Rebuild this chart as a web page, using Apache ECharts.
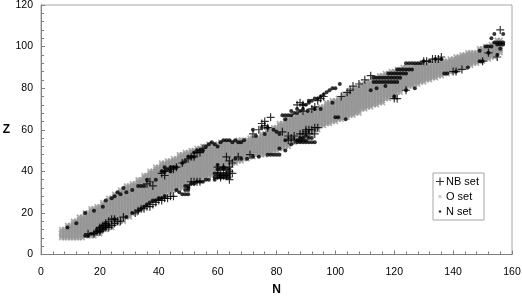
<!DOCTYPE html>
<html><head><meta charset="utf-8">
<script src="https://cdn.jsdelivr.net/npm/echarts@6/dist/echarts.min.js"></script>
<style>html,body{margin:0;padding:0;background:#fff}#c{width:522px;height:296px}</style></head>
<body><div id="c"></div>
<script>
// O set: extent of Z at each pair of neighbouring N
const oN =  [7,9,11,13,15,17,19,21,23,25,27,29,31,33,35,37,39,41,43,45,47,49,51,53,55,57,59,61,63,65,67,69,71,73,75,77,79,81,83,85,87,89,91,93,95,97,99,101,103,105,107,109,111,113,115,117,119,121,123,125,127,129,131,133,135,137,139,141,143,145,147,149,151,153,155];
const oLo = [8,8,8,8,9,9,10,12,13,15,16,18,20,22,24,26,27,28,30,31,32,33,35,36,37,38,40,42,43,44,45,46,47,48,48,49,50,51,52,54,55,57,58,60,62,63,64,65,66,67,68,70,71,72,73,75,76,78,80,81,82,83,84,85,86,87,88,89,90,91,92,93,94,95,97];
const oHi = [12,14,16,18,20,22,23,25,27,29,31,33,34,36,38,40,42,44,45,46,48,49,50,51,52,53,53,54,54,54,55,55,56,56,58,60,61,63,65,66,67,68,69,70,71,73,74,75,77,79,80,82,83,85,86,87,88,89,90,90,91,91,91,92,93,93,94,95,96,97,97,99,100,101,103];
// N set: upper edge, lower edge, upper-right patch, far end
const nUpper = [[9,13],[12,15],[15,20],[18,21],[21,23],[22,26],[24,27],[25,28],[26,30],[27,29],[28,32],[29,30],[31,31],[33,33],[34,33],[35,33],[36,36],[39,36],[41,40],[42,40],[43,41],[44,42],[45,42],[46,42],[49,45],[50,47],[51,47],[52,47],[53,50],[54,50],[55,50],[58,54],[60,52],[61,54],[62,55],[63,55],[64,55],[65,54],[67,54],[68,54],[72,60],[73,57],[75,61],[76,58],[77,61],[79,60],[80,59],[81,58],[82,67],[83,65],[84,67],[85,67],[86,68],[87,68],[88,69],[89,70],[90,72],[91,73],[92,74],[93,75],[94,75],[95,76],[96,77],[97,78],[98,79],[99,80],[100,80],[101.5,82],[90.6,69],[93,70],[95,70],[99,73],[42,42],[44,40],[48,44],[52,49],[56,52],[57,53],[59,53],[66,55],[69,55],[83,67],[85,69],[87,70],[89,72],[91,74]];
const nLower = [[15,9],[16,9],[17,10],[18,10],[19,11],[19,12],[20,11],[20,13],[21,12],[21,14],[22,13],[22,15],[23,14],[25,17],[29,18],[31,20],[33,21],[35,23],[37,25],[38,26],[40,27],[42,28],[46,31],[47,30],[48,29],[49,33],[49,29],[49,31],[50,29],[50,32],[50,31],[50,33],[51,34],[52,34],[53,35],[54,35],[55,35],[56,36],[57,36],[59,36],[59,39],[59,37],[60,37],[60,39],[60,41],[60,43],[61,38],[61,37],[61,39],[61,41],[62,42],[62,37],[62,39],[62,41],[63,38],[63,37],[63,39],[63,41],[64,37],[64,39],[64,41],[66,46],[68,46],[70,46],[72,47],[74,47],[77,48],[78,48],[79,48],[80,48],[81,48],[81,51],[83,55],[83,50],[85,53],[87,55],[88,56],[89,56],[90,57],[91,56],[92,56],[87,54],[88,54],[89,54],[90,54],[91,54],[92,54],[93,54],[88,55],[89,55],[90,55],[100,66],[103.5,65],[101,66],[36,24],[34,22],[39,26],[41,27]];
const nPatch = [[113,83],[114,83],[115,83],[116,83],[117,83],[118,83],[119,83],[120,83],[121,83],[113,85],[114,85],[115,85],[116,85],[117,85],[118,85],[119,85],[120,85],[121,85],[122,85],[118,87],[119,87],[120,87],[121,87],[122,87],[123,87],[124,87],[121,89],[122,89],[123,89],[124,89],[125,89],[126,89],[124,92],[125,92],[126,92],[127,92],[128,92],[129,92],[112,79],[114,80],[117,81],[120,76],[124,79],[127,80],[130,93],[132,93],[134,94],[136,94],[137,87],[138,87],[141,88],[145,90]];
const nEnd = [[149,93],[150,93],[149,98],[151,100],[152,100],[153,100],[152,97],[153,104],[154,106],[157,106],[155,96],[155,101],[156,101],[157,101],[154,102],[155,102],[156,102],[157,102],[156,99]];
// NB set: lower edge, upper edge, clusters, far end
const nbLower = [[16,10],[18,10],[19,11],[20,11],[20,13],[21,12],[21,14],[22,13],[22,15],[23,13],[23,16],[24,14],[24,17],[25,15],[25,17],[26,16],[27,16],[28,18],[32,20],[33,21],[34,22],[35,22],[36,23],[37,23],[38,24],[39,25],[40,26],[41,26],[42,27],[43,27],[44,28],[45,28],[51,35],[52,35],[53,35],[54,35]];
const nbUpper = [[36,34],[37,35],[38,33],[41,39],[42,38],[42,40],[44,41],[45,41],[46,42],[48,44],[50,46],[51,47],[52,47],[53,49],[54,49],[55,51],[72,58],[74,60],[75,63],[76,62],[77,61],[76,64],[78,66]];
const nbCluster = [[60,38],[61,38],[62,38],[63,38],[60,42],[62,42],[64,42],[61,37],[63,38],[65,44],[64,45],[63,47],[64,40],[65,39],[64,36],[67,47],[71,48],[82,59],[84,57],[84,55],[85,56],[86,57],[86,55],[88,58],[89,58],[90,59],[91,58],[93,58],[90,60],[91,60],[92,60],[93,61],[94,61],[89,69],[92,70],[87,72],[88,73],[89,72],[93,71],[94,74],[95,75],[96,76],[102,76],[104,78],[105,79],[106,81],[108,82],[110,84],[112,86],[120,75],[121,75],[124,79]];
const nbEnd = [[130,93],[131,93],[133,94],[134,94],[135,94],[136,95],[140,88],[141,88],[143,89],[150,93],[152,97],[155,95],[156,108]];
const tickStep = 20;
const plusIcon = 'path://M3.4 0h1.2v8H3.4zM0 3.4h8v1.2H0z';
const crossIcon = 'path://M0 1.5L1.5 0L4 2.5L6.5 0L8 1.5L5.5 4L8 6.5L6.5 8L4 5.5L1.5 8L0 6.5L2.5 4Z';
const legendCross = 'path://M2.5 3L3 2.5L4.5 4L6 2.5L6.5 3L5 4.5L6.5 6L6 6.5L4.5 5L3 6.5L2.5 6L4 4.5ZM0 0h.01v.01H0zM9 9h-.01v-.01H9z';
const legendDot = 'path://M3 4.5a1.5 1.5 0 1 0 3 0a1.5 1.5 0 1 0 -3 0ZM0 0h.01v.01H0zM9 9h-.01v-.01H9z';
const oPts = [];
oN.forEach((n,i)=>{ for(let z=oLo[i]; z<=oHi[i]; z++){ oPts.push([n,z]); oPts.push([n+1,z]); } });
const axisBase = {
  nameLocation:'middle',nameMoveOverlap:false,nameRotate:0,
  nameTextStyle:{fontFamily:'Liberation Sans',fontWeight:'bold',fontSize:12,color:'#000'},
  axisLine:{lineStyle:{color:'#808080',width:1}},
  axisTick:{inside:true,length:4,lineStyle:{color:'#808080'}},
  minorTick:{show:true,splitNumber:5,length:3,lineStyle:{color:'#808080'}},
  axisLabel:{fontFamily:'Liberation Sans',fontSize:10.5,color:'#000'},
  splitLine:{show:false}, minorSplitLine:{show:false}
};
const chart = echarts.init(document.getElementById('c'),null,{renderer:'canvas'});
chart.setOption({
  animation:false,backgroundColor:'#fff',
  grid:{left:41,right:10,top:5,bottom:41.5,show:true,borderColor:'#a6a6a6',borderWidth:1,outerBoundsMode:'none',containLabel:false},
  xAxis:Object.assign({},axisBase,{type:'value',min:0,max:160,interval:tickStep,name:'N',nameGap:29,
    axisLabel:Object.assign({},axisBase.axisLabel,{margin:12})}),
  yAxis:Object.assign({},axisBase,{type:'value',min:0,max:120,interval:tickStep,name:'Z',nameGap:31,
    axisLabel:Object.assign({},axisBase.axisLabel,{margin:8})}),
  legend:{orient:'vertical',left:433,top:173,itemWidth:8,itemHeight:8,itemGap:4,padding:[3,5,3,3],
    backgroundColor:'#fff',borderColor:'#a6a6a6',borderWidth:1,
    textStyle:{fontFamily:'Liberation Sans',fontSize:11,color:'#000',padding:[0,0,0,-3]},
    data:[{name:'NB set',icon:plusIcon},{name:'O set',icon:legendCross},{name:'N set',icon:legendDot}]},
  series:[
    {name:'O set',type:'scatter',data:oPts,symbol:crossIcon,symbolSize:6,itemStyle:{color:'#969696'},z:2},
    {name:'NB set',type:'scatter',data:[...nbLower,...nbUpper,...nbCluster,...nbEnd],symbol:plusIcon,symbolSize:8,itemStyle:{color:'#000'},z:3},
    {name:'N set',type:'scatter',data:[...nUpper,...nLower,...nPatch,...nEnd],symbol:'circle',symbolSize:4,itemStyle:{color:'#000'},z:4}
  ]
});
</script></body></html>
